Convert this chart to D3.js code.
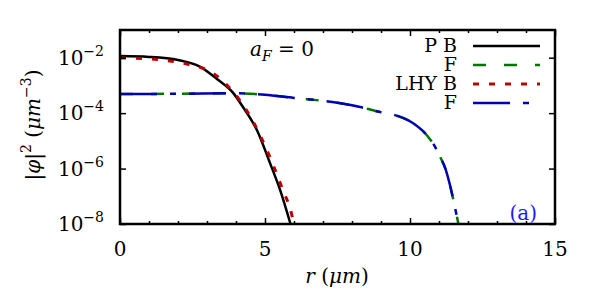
<!DOCTYPE html>
<html>
<head>
<meta charset="utf-8">
<script src="https://cdn.jsdelivr.net/npm/d3@7"></script>
<style>
    body { margin: 0; background: white; }
</style>
</head>
<body>
<svg id="grafico"></svg>
<script>
const WIDTH = 600,
    HEIGHT = 300;

const margin = {
    top: 30,
    bottom: 76,
    right: 45,
    left: 120
};

const FUENTE = "'DejaVu Serif', 'Liberation Serif', serif";

// P B (black solid)
const rPB = [0, 1, 2, 2.75, 3.38, 3.9, 4.24, 4.72, 5.17, 5.52, 5.88];
const densPB = [1.15e-2, 1.07e-2, 8.3e-3, 4.8e-3, 1.6e-3, 5.4e-4, 1.66e-4, 2.45e-5, 1.6e-6, 1.7e-7, 1e-8];

// P F (green dashed)
const rPF = [0, 2, 4, 5, 6, 6.45, 7.5, 8.28, 8.97, 9.43, 10.11, 10.58, 10.86, 11.05, 11.22, 11.38, 11.52, 11.67];
const densPF = [4.9e-4, 5.0e-4, 5.2e-4, 4.6e-4, 3.55e-4, 3.2e-4, 2.35e-4, 1.66e-4, 1.1e-4, 8.8e-5, 4.3e-5, 1.6e-5, 6.2e-6, 2.5e-6, 1.0e-6, 2.5e-7, 5.6e-8, 1e-8];

// LHY B (red dotted)
const rLB = [0, 1, 1.72, 2.3, 3.2, 3.68, 4.31, 4.83, 5.28, 5.66, 5.86, 6.0];
const densLB = [9.8e-3, 9.1e-3, 7.6e-3, 5.9e-3, 2.8e-3, 1.05e-3, 1.55e-4, 1.6e-5, 1.35e-6, 1.3e-7, 3.8e-8, 1e-8];

// LHY F (blue dash-dot)
const rLF = [0, 2, 4, 5, 6, 6.45, 7.5, 8.28, 8.97, 9.43, 10.11, 10.58, 10.86, 11.05, 11.22, 11.38, 11.52, 11.67];
const densLF = [4.9e-4, 5.0e-4, 5.2e-4, 4.6e-4, 3.55e-4, 3.2e-4, 2.35e-4, 1.66e-4, 1.1e-4, 8.8e-5, 4.3e-5, 1.6e-5, 6.2e-6, 2.5e-6, 1.0e-6, 2.5e-7, 5.6e-8, 1e-8];

const xTicks = [0, 5, 10, 15];
const xMinorTicks = d3.range(0, 16, 1);
const yTicks = [1e-8, 1e-6, 1e-4, 1e-2];
const yTickExp = ["\u22128", "\u22126", "\u22124", "\u22122"];

const series = [
    { label: "P B", r: rPB, dens: densPB, color: "black", width: 2.5, dash: null },
    { label: "F", r: rPF, dens: densPF, color: "#007400", width: 2.5, dash: "13,18" },
    { label: "LHY B", r: rLB, dens: densLB, color: "#b80000", width: 3, dash: "6,10" },
    { label: "F", r: rLF, dens: densLF, color: "#0000b4", width: 2.5, dash: "37,13,6,13" }
];

const svg = d3.select("#grafico")
    .attr("width", WIDTH)
    .attr("height", HEIGHT)
    .style("font-family", FUENTE);

const innerW = WIDTH - margin.left - margin.right,
    innerH = HEIGHT - margin.top - margin.bottom;

const escalaX = d3.scaleLinear().domain([0, 15]).range([0, innerW]);
const escalaY = d3.scaleLog().domain([1e-8, 1e-1]).range([innerH, 0]);

const g = svg.append("g")
    .attr("transform", `translate(${margin.left} ${margin.top})`);

svg.append("clipPath")
    .attr("id", "clip-area")
    .append("rect")
    .attr("width", innerW)
    .attr("height", innerH);

// curves
const linea = d3.line()
    .x(d => escalaX(d[0]))
    .y(d => escalaY(d[1]))
    .curve(d3.curveMonotoneX);

g.append("g")
    .attr("clip-path", "url(#clip-area)")
    .selectAll("path")
    .data(series)
    .join("path")
    .attr("d", s => linea(s.r.map((r, i) => [r, s.dens[i]])))
    .attr("fill", "none")
    .attr("stroke", s => s.color)
    .attr("stroke-width", s => s.width)
    .attr("stroke-dasharray", s => s.dash);

// axes: inward ticks on all four sides
const ejeAbajo = d3.axisBottom(escalaX).tickValues(xMinorTicks)
    .tickSize(-3).tickSizeOuter(0).tickFormat("");
const ejeArriba = d3.axisTop(escalaX).tickValues(xMinorTicks)
    .tickSize(-3).tickSizeOuter(0).tickFormat("");

const contAbajo = g.append("g").attr("transform", `translate(0 ${innerH})`).call(ejeAbajo);
const contArriba = g.append("g").call(ejeArriba);
[contAbajo, contArriba].forEach(c => {
    c.selectAll(".tick line")
        .attr("y2", d => (xTicks.includes(d) ? 6 : 3) * (c === contAbajo ? -1 : 1))
        .attr("stroke-width", 1.5);
});

const contIzq = g.append("g").call(d3.axisLeft(escalaY).tickValues(yTicks).tickSize(-6).tickSizeOuter(0).tickFormat(""));
const contDer = g.append("g").attr("transform", `translate(${innerW} 0)`)
    .call(d3.axisRight(escalaY).tickValues(yTicks).tickSize(-6).tickSizeOuter(0).tickFormat(""));
contIzq.selectAll(".tick line").attr("stroke-width", 1.5);
contDer.selectAll(".tick line").attr("stroke-width", 1.5);

g.selectAll(".domain").remove();

g.append("rect")
    .attr("width", innerW)
    .attr("height", innerH)
    .attr("fill", "none")
    .attr("stroke", "black")
    .attr("stroke-width", 2.5);

// tick labels
g.selectAll(".xlab")
    .data(xTicks)
    .join("text")
    .attr("x", d => escalaX(d))
    .attr("y", innerH + 32)
    .attr("text-anchor", "middle")
    .attr("font-size", 20)
    .text(d => d);

const yLab = g.selectAll(".ylab")
    .data(yTicks)
    .join("text")
    .attr("x", -16)
    .attr("y", d => escalaY(d) + 7)
    .attr("text-anchor", "end")
    .attr("font-size", 20);
yLab.append("tspan").text("10");
yLab.append("tspan")
    .attr("dy", -9)
    .attr("font-size", 14)
    .text((d, i) => yTickExp[i]);

// axis titles
const tituloX = svg.append("text")
    .attr("x", 337)
    .attr("y", 283)
    .attr("text-anchor", "middle")
    .attr("font-size", 20);
tituloX.append("tspan").attr("font-style", "italic").text("r");
tituloX.append("tspan").text(" (");
tituloX.append("tspan").attr("font-style", "italic").text("\u03bcm");
tituloX.append("tspan").text(")");

const tituloY = svg.append("text")
    .attr("transform", "translate(40 125) rotate(-90)")
    .attr("text-anchor", "middle")
    .attr("font-size", 20);
tituloY.append("tspan").text("|");
tituloY.append("tspan").attr("font-style", "italic").text("\u03c6");
tituloY.append("tspan").text("|");
tituloY.append("tspan").attr("dy", -9).attr("font-size", 14).text("2");
tituloY.append("tspan").attr("dy", 9).text(" (");
tituloY.append("tspan").attr("font-style", "italic").text("\u03bcm");
tituloY.append("tspan").attr("dy", -9).attr("font-size", 14).text("\u22123");
tituloY.append("tspan").attr("dy", 9).text(")");

// annotation a_F = 0
const anot = svg.append("text")
    .attr("x", 250)
    .attr("y", 56)
    .attr("font-size", 20);
anot.append("tspan").attr("font-style", "italic").text("a");
anot.append("tspan").attr("font-style", "italic").attr("font-size", 14).attr("dy", 5).text("F");
anot.append("tspan").attr("dy", -5).text(" = 0");

svg.append("text")
    .attr("x", 537)
    .attr("y", 220)
    .attr("text-anchor", "end")
    .attr("font-size", 20)
    .attr("fill", "#1a1aff")
    .text("(a)");

// legend
const filas = svg.append("g")
    .selectAll("g")
    .data(series)
    .join("g")
    .attr("transform", (d, i) => `translate(0 ${46 + i * 19})`);
filas.append("text")
    .attr("x", 457)
    .attr("y", 6)
    .attr("text-anchor", "end")
    .attr("font-size", 19)
    .text(d => d.label);
filas.append("line")
    .attr("x1", 473)
    .attr("x2", 540)
    .attr("stroke", d => d.color)
    .attr("stroke-width", d => d.width)
    .attr("stroke-dasharray", d => d.dash);
</script>
</body>
</html>
